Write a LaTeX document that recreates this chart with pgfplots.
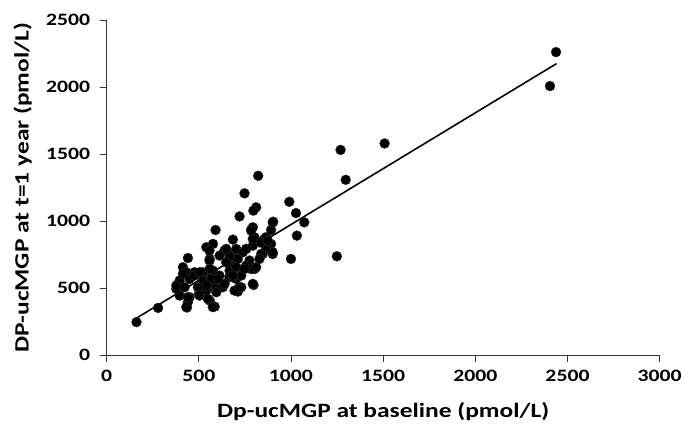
\documentclass[border=0pt]{standalone}
\usepackage{fontspec}
\setmainfont[FakeStretch=1.25]{Carlito}
\usepackage{pgfplots}
\pgfplotsset{compat=1.18}
\begin{document}
\begin{tikzpicture}
\begin{axis}[
    at={(0,0)}, anchor=south west,
    scale only axis,
    width=555bp, height=336.5bp,
    xmin=0, xmax=3000, ymin=0, ymax=2500,
    xtick={0,500,...,3000}, ytick={0,500,...,2500},
    axis x line*=bottom, axis y line*=left,
    axis line style={-, line width=0.8pt, black!80},
    tick style={line width=0.8pt, black!80},
    tick align=outside, major tick length=7bp,
    /pgf/number format/assume math mode=true,
    /pgf/number format/1000 sep={},
    tick label style={font=\fontsize{17.5}{17.5}\selectfont\bfseries},
    xticklabel style={yshift=-4bp},
    yticklabel style={xshift=-6bp},
    label style={font=\fontsize{20.5}{21}\selectfont\bfseries},
    xlabel={Dp-ucMGP at baseline (pmol/L)},
    ylabel={DP-ucMGP at t=1 year (pmol/L)},
    xlabel style={at={(axis description cs:0.5,-0.168)}, anchor=center},
    ylabel style={at={(axis description cs:-0.152,0.5)}, anchor=center},
    clip=false,
]
\addplot[only marks, mark=*, mark size=5bp, mark options={fill=black, draw=black!80}] coordinates {
(162,247) (279,353) (436,356) (441,725) (822,1338) (748,1207) (811,1103)
(796,1078) (721,1035) (991,1144) (1027,1060) (1072,991) (1032,892) (1000,718)
(1249,738) (1297,1308) (1269,1531) (1508,1579) (2405,2007) (2438,2260)
(904,996) (892,934) (901,755) (847,755) (797,524) (712,475) (730,507)
(591,934) (685,862) (784,936) (793,954) (802,879) (541,805) (577,830)
(559,718) (414,656) (396,557) (393,495) (396,445) (450,433) (441,396)
(501,458) (559,408) (586,363) (541,483) (586,507)
(558,780) (639,780) (676,755) (703,787) (558,706) (649,693) (694,668)
(477,619) (522,619) (576,631) (432,619) (450,569) (522,556) (567,569)
(612,594) (666,582) (703,569) (378,495) (423,507) (495,507) (541,519)
(595,495) (630,507) (441,433) (504,445) (549,420) (576,359) (432,359) (694,482)
(784,929) (901,991) (856,867) (829,842) (793,817) (757,792) (892,830)
(865,792) (703,792) (739,768) (901,768) (838,755) (667,730) (712,718)
(775,706) (739,643) (802,643) (766,656) (667,631) (730,594) (685,582)
(721,507) (793,532)
(649,692) (703,656) (757,668) (784,643) (811,656) (685,594) (640,532)
(604,569) (477,594) (505,619) (414,607) (378,520) (595,470) (748,643)
(829,718) (865,805) (838,842) (757,793) (649,793) (613,743) (559,643)
(865,880) (874,855) (793,867)
};
\addplot[black, line width=1.6pt] coordinates {(160,275) (2440,2174)};
\end{axis}
\path[use as bounding box] (-107bp,-76.5bp) rectangle (578bp,356.5bp);
\end{tikzpicture}
\end{document}
